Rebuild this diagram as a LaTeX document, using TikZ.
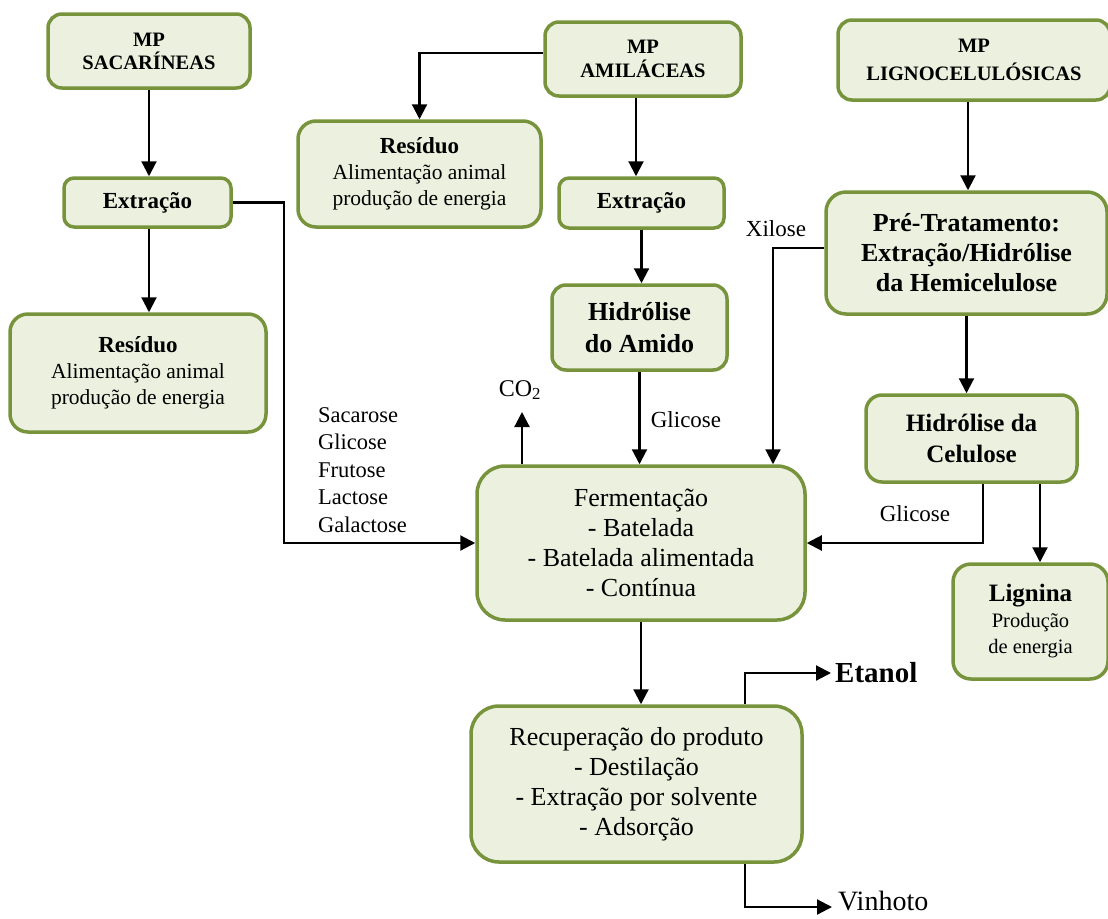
\documentclass[tikz,border=0pt]{standalone}
\usepackage{fontspec}
\setmainfont{Liberation Serif}
\usetikzlibrary{arrows.meta,calc}
\definecolor{boxfill}{HTML}{EBF1DE}
\definecolor{boxline}{HTML}{77933C}
\tikzset{
  box/.style={draw=boxline, fill=boxfill, line width=3.5pt, rectangle, align=center, inner sep=0pt},
  arr/.style={line width=2.2pt, -{Triangle[length=15pt,width=15pt]}},
  lbl/.style={inner sep=0pt, align=left},
}
\newcommand{\fs}[2]{\fontsize{#1}{#2}\selectfont}
\begin{document}
\begin{tikzpicture}[x=1pt,y=-1pt]
\useasboundingbox (0,0) rectangle (1108,918);
% nodes
\node[box, rounded corners=14pt, minimum width=202pt, minimum height=74pt, font=\bfseries\fs{20.5}{23}] (msac) at (149,51) {MP\\SACARÍNEAS};
\node[box, rounded corners=10pt, minimum width=167pt, minimum height=49pt, font=\bfseries\fs{23}{26}] (exl) at (147.5,202.5) {Extração};
\node[box, rounded corners=18pt, minimum width=256pt, minimum height=118pt, font=\fs{21.5}{26}] (resl) at (138,373) {{\bfseries\fs{23}{26}Resíduo}\\Alimentação animal\\produção de energia};
\node[box, rounded corners=14pt, minimum width=196pt, minimum height=74pt, font=\bfseries\fs{20.5}{24}] (mam) at (643,59) {MP\\AMILÁCEAS};
\node[box, rounded corners=18pt, minimum width=243pt, minimum height=106pt, font=\fs{21.5}{26}] (resm) at (419.5,174) {{\bfseries\fs{23}{26}Resíduo}\\Alimentação animal\\produção de energia};
\node[box, rounded corners=10pt, minimum width=165pt, minimum height=50pt, font=\bfseries\fs{23}{26}] (exm) at (641.5,203) {Extração};
\node[box, rounded corners=14pt, minimum width=175pt, minimum height=85pt, font=\bfseries\fs{26}{32}] (hia) at (639.5,327.5) {Hidrólise\\do Amido};
\node[box, rounded corners=14pt, minimum width=272pt, minimum height=80pt, font=\bfseries\fs{20.5}{28}] (mlig) at (974,60) {MP\\LIGNOCELULÓSICAS};
\node[box, rounded corners=20pt, minimum width=281pt, minimum height=122pt, font=\bfseries\fs{26}{30}] (pre) at (966.5,253) {Pré-Tratamento:\\Extração/Hidrólise\\da Hemicelulose};
\node[box, rounded corners=16pt, minimum width=211pt, minimum height=87pt, font=\bfseries\fs{25}{31}] (hic) at (971.5,438.5) {Hidrólise da\\Celulose};
\node[box, rounded corners=28pt, minimum width=328pt, minimum height=154pt, font=\fs{26}{30}] (ferm) at (641,543) {Fermentação\\- Batelada\\- Batelada alimentada\\- Contínua};
\node[box, rounded corners=18pt, minimum width=155pt, minimum height=115pt, font=\fs{20.5}{26}] (lig) at (1030.5,621.5) {{\bfseries\fs{25}{27}Lignina}\\Produção\\de energia};
\node[box, rounded corners=28pt, minimum width=331pt, minimum height=156pt, font=\fs{26}{30}] (rec) at (636.5,784) {Recuperação do produto\\- Destilação\\- Extração por solvente\\- Adsorção};
% labels
\node[lbl, anchor=west, font=\fs{22.5}{27.5}] (acucares) at (318,470) {Sacarose\\Glicose\\Frutose\\Lactose\\Galactose};
\node[lbl, font=\fs{23}{26}] (gli1) at (686,420) {Glicose};
\node[lbl, font=\fs{24}{26}] (co2) at (520,390) {CO\textsubscript{2}};
\node[lbl, font=\fs{23}{26}] (xil) at (776,229) {Xilose};
\node[lbl, font=\fs{23}{26}] (gli2) at (915,514) {Glicose};
\node[lbl, anchor=west, font=\bfseries\fs{29}{32}] (etanol) at (835,673) {Etanol};
\node[lbl, anchor=west, font=\fs{28}{32}] (vinhoto) at (838,901) {Vinhoto};
% helper coordinates
\coordinate (k1) at (284,0);
\coordinate (kx) at (773,0);
\coordinate (kg) at (983,0);
\coordinate (kl) at (1040,0);
\coordinate (ke) at (745,0);
\coordinate (kc) at (522,0);
% connectors
\draw[arr] (msac.south) -- (msac.south |- exl.north);
\draw[arr] (msac.south |- exl.south) -- (msac.south |- resl.north);
\draw[arr] (exl.east) -| (k1 |- ferm.west) -- (ferm.west);
\draw[arr] ([yshift=6pt]mam.west) -| (resm.north);
\draw[arr] ([xshift=-7pt]mam.south) -- ([xshift=-7pt]mam.south |- exm.north);
\draw[arr] (exm.south) -- (exm.south |- hia.north);
\draw[arr] (hia.south) -- (hia.south |- ferm.north);
\draw[arr] (kc |- ferm.north) -- ([yshift=-12pt]kc |- co2.south);
\draw[arr] ([yshift=5pt]pre.west) -| (kx |- ferm.north);
\draw[arr] ([xshift=-6pt]mlig.south) -- ([xshift=-6pt]mlig.south |- pre.north);
\draw[arr] (pre.south) -- (pre.south |- hic.north);
\draw[arr] (kg |- hic.south) |- (ferm.east);
\draw[arr] (kl |- hic.south) -- (kl |- lig.north);
\draw[arr] (ferm.south) -- (ferm.south |- rec.north);
\draw[arr] (ke |- rec.north) |- ([xshift=-4pt]etanol.west);
\draw[arr] (ke |- rec.south) |- ([xshift=-6pt,yshift=-6pt]vinhoto.west);
\end{tikzpicture}
\end{document}
